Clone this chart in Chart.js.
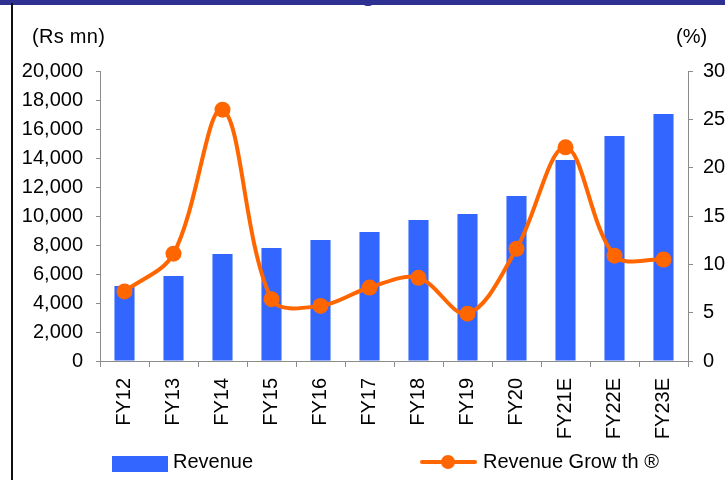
<!DOCTYPE html>
<html>
<head>
<meta charset="utf-8">
<script src="https://cdn.jsdelivr.net/npm/chart.js@4/dist/chart.umd.min.js"></script>
<style>
  body { margin: 0; background: #fff; }
  #wrap { position: relative; width: 725px; height: 480px; overflow: hidden;
          font-family: "Liberation Sans", Arial, sans-serif; color: #000; }
  #wrap canvas { position: absolute; left: 0; top: 0; }
  .txt { position: absolute; font-size: 20px; line-height: 20px; white-space: nowrap; }
</style>
</head>
<body>
<div id="wrap">
  <canvas id="chart" width="725" height="480"></canvas>
  <div style="position:absolute;left:0;top:0;width:725px;height:5px;background:#2E3192"></div>
  <div style="position:absolute;left:363px;top:0;width:10px;height:6px;background:#2E3192;border-radius:0 0 4px 4px"></div>
  <div style="position:absolute;left:11px;top:3px;width:2px;height:477px;background:#111"></div>
  <div class="txt" style="left:32px;top:26px;letter-spacing:0.3px">(Rs mn)</div>
  <div class="txt" style="left:676px;top:26px">(%)</div>
  <div id="legend"></div>
</div>
<script>
// values
const categories = ['FY12', 'FY13', 'FY14', 'FY15', 'FY16', 'FY17', 'FY18', 'FY19', 'FY20', 'FY21E', 'FY22E', 'FY23E'];
const revenue = [5170, 5860, 7380, 7790, 8340, 8900, 9720, 10140, 11380, 13860, 15520, 17030];
const revenueGrowth = [7.2, 11.1, 26.0, 6.4, 5.7, 7.6, 8.6, 4.9, 11.6, 22.1, 10.9, 10.5];
const leftTicks = [0, 2000, 4000, 6000, 8000, 10000, 12000, 14000, 16000, 18000, 20000];
const rightTicks = [0, 5, 10, 15, 20, 25, 30];

const BLUE = '#3366FF';
const ORANGE = '#FF6600';
const AXIS = '#8C8C8C';
const font = { family: '"Liberation Sans", Arial, sans-serif', size: 20 };

const ctx = document.getElementById('chart').getContext('2d');

const chart = new Chart(ctx, {
  data: {
    labels: categories,
    datasets: [
      {
        type: 'line',
        label: 'Revenue Grow th ®',
        data: revenueGrowth,
        yAxisID: 'y1',
        borderColor: ORANGE,
        backgroundColor: ORANGE,
        borderWidth: 4,
        tension: 0.35,
        pointRadius: 8,
        pointBorderWidth: 0,
        pointBackgroundColor: ORANGE,
        clip: false,
        order: 0
      },
      {
        type: 'bar',
        label: 'Revenue',
        data: revenue,
        yAxisID: 'y',
        backgroundColor: BLUE,
        categoryPercentage: 1,
        barPercentage: 0.41,
        order: 1
      }
    ]
  },
  options: {
    responsive: false,
    animation: false,
    layout: { padding: { left: 0, right: 0, top: 71, bottom: 0 } },
    plugins: { legend: { display: false }, tooltip: { enabled: false } },
    scales: {
      x: {
        offset: true,
        grid: { offset: true, drawOnChartArea: false, color: AXIS, tickLength: 6 },
        border: { color: AXIS, width: 1 },
        ticks: { color: '#000', font: font, minRotation: 90, maxRotation: 90, padding: 11, autoSkip: false },
        afterFit: (s) => { s.height = 119; }
      },
      y: {
        position: 'left',
        min: 0, max: 20000,
        afterBuildTicks: (s) => { s.ticks = leftTicks.map(v => ({ value: v })); },
        grid: { drawOnChartArea: false, color: AXIS, tickLength: 4 },
        border: { color: AXIS, width: 1 },
        ticks: { color: '#000', font: font, padding: 13,
                 callback: (v) => v.toLocaleString('en-US') },
        afterFit: (s) => { s.width = 100; }
      },
      y1: {
        position: 'right',
        min: 0, max: 30,
        afterBuildTicks: (s) => { s.ticks = rightTicks.map(v => ({ value: v })); },
        grid: { drawOnChartArea: false, color: AXIS, tickLength: 5 },
        border: { color: AXIS, width: 1 },
        ticks: { color: '#000', font: font, padding: 10 },
        afterFit: (s) => { s.width = 725 - 688; }
      }
    }
  }
});

// legend built from the datasets, placed like the reference
const legend = document.getElementById('legend');
const bar = chart.data.datasets[1];
const line = chart.data.datasets[0];
legend.innerHTML =
  '<div style="position:absolute;left:112px;top:456px;width:56px;height:16px;background:' + bar.backgroundColor + '"></div>' +
  '<div class="txt" style="left:173px;top:451px">' + bar.label + '</div>' +
  '<div style="position:absolute;left:420px;top:460px;width:57px;height:4px;border-radius:2px;background:' + line.borderColor + '"></div>' +
  '<div style="position:absolute;left:441px;top:455px;width:14px;height:14px;border-radius:50%;background:' + line.borderColor + '"></div>' +
  '<div class="txt" style="left:483px;top:451px">' + line.label + '</div>';
</script>
</body>
</html>
